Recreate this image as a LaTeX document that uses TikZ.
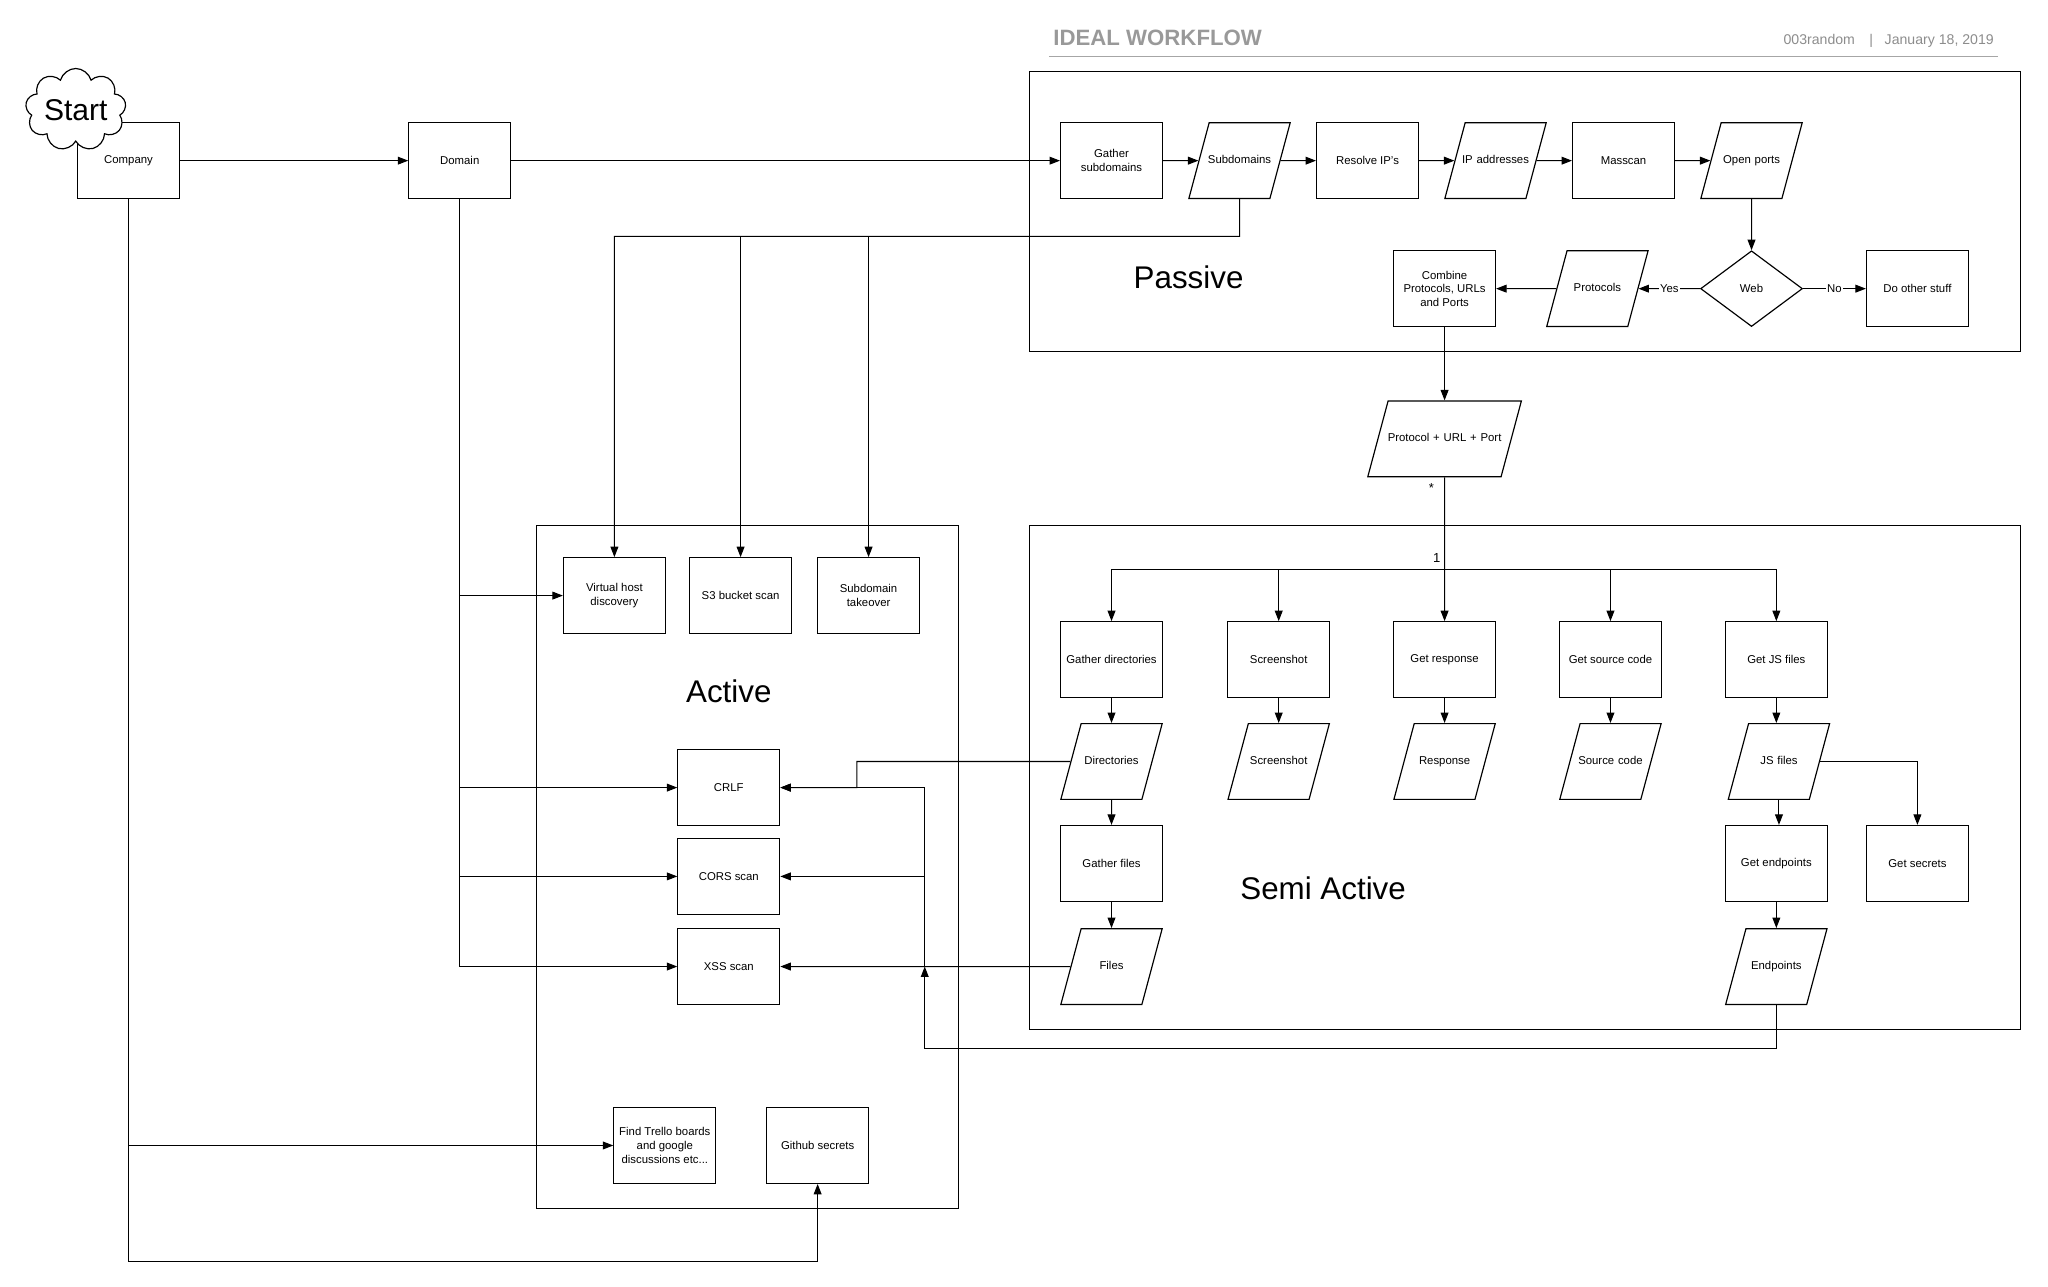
\documentclass[tikz,border=0pt]{standalone}
\usepackage{fontspec}
\setmainfont{Liberation Sans}
\usetikzlibrary{arrows.meta}
\usetikzlibrary{shapes.geometric}
\usetikzlibrary{shapes.symbols}

\begin{document}
\begin{tikzpicture}[x=1pt, y=-1pt,
    box/.style={draw, line width=0.9pt, fill=white, minimum width=78pt, minimum height=58pt, inner sep=2pt, align=center, font=\fontsize{8.7}{10.4}\selectfont},
    data/.style={box, trapezium, trapezium left angle=75, trapezium right angle=105, minimum width=0pt, minimum height=0pt, text width=62pt, text height=6.3pt, text depth=1.8pt, inner xsep=-7.75pt, inner ysep=24.95pt},
    region/.style={draw, line width=0.8pt},
    bigtext/.style={font=\fontsize{24}{28}\selectfont},
    link/.style={line width=0.8pt, -{Triangle[length=8pt, width=6pt]}},
    plain/.style={line width=0.8pt},
    ]
    \useasboundingbox (0,0) rectangle (1568,985);

    % header
    \node[anchor=base west, text=black!40, font=\fontsize{17}{20}\selectfont\bfseries] (title) at (803,35) {IDEAL WORKFLOW};
    \node[anchor=base east, text=black!45, font=\fontsize{10.8}{12}\selectfont] (meta) at (1530,34) {003random\hspace{11pt}|\hspace{9pt}January 18, 2019};
    \draw[black!35, line width=1pt] (803,43) -- (1530,43);

    % regions
    \draw[region] (788,55) rectangle (1547,269);
    \draw[region] (788,402) rectangle (1547,788);
    \draw[region] (411,402) rectangle (734,925);
    \node[bigtext] (passive) at (910,212) {Passive};
    \node[bigtext] (active) at (558,529) {Active};
    \node[bigtext] (semi) at (1013,680) {Semi Active};

    % start
    \node[box] (company) at (98.4,123) {Company};
    \node[cloud, draw, fill=white, line width=0.9pt, cloud puffs=9, aspect=1.35, inner sep=-1pt, minimum width=77pt, minimum height=57pt, font=\fontsize{23}{26}\selectfont] (start) at (58,84) {Start};
    \node[box] (domain) at (352,123) {Domain};

    % passive
    \node[box] (gsub) at (851,123) {Gather\\subdomains};
    \node[data] (subs) at (949,123) {Subdomains};
    \node[box] (resip) at (1047,123) {Resolve IP's};
    \node[data] (ipaddr) at (1145,123) {IP addresses};
    \node[box] (masscan) at (1243,123) {Masscan};
    \node[data] (openports) at (1341,123) {Open ports};
    \node[box, diamond, aspect=1.34, inner sep=0pt] (web) at (1341,221) {Web};
    \node[box] (other) at (1468,221) {Do other stuff};
    \node[data] (protos) at (1223,221) {Protocols};
    \node[box] (combine) at (1106,221) {Combine\\Protocols, URLs\\and Ports};
    \node[data, text width=100pt, inner xsep=-6.75pt] (pup) at (1106,336) {Protocol + URL + Port};

    % semi active
    \node[box] (gdir) at (851,505) {Gather directories};
    \node[box] (shot) at (979,505) {Screenshot};
    \node[box] (getresp) at (1106,505) {Get response};
    \node[box] (getsrc) at (1233,505) {Get source code};
    \node[box] (getjs) at (1360,505) {Get JS files};
    \node[data] (dirs) at (851,583) {Directories};
    \node[data] (shotdata) at (979,583) {Screenshot};
    \node[data] (resp) at (1106,583) {Response};
    \node[data] (src) at (1233,583) {Source code};
    \node[data] (jsfiles) at (1362,583) {JS files};
    \node[box] (gfiles) at (851,661) {Gather files};
    \node[box] (getend) at (1360,661) {Get endpoints};
    \node[box] (getsec) at (1468,661) {Get secrets};
    \node[data] (files) at (851,740) {Files};
    \node[data] (endpoints) at (1360,740) {Endpoints};

    % active
    \node[box] (vhost) at (470.4,456) {Virtual host\\discovery};
    \node[box] (s3) at (567,456) {S3 bucket scan};
    \node[box] (takeover) at (665,456) {Subdomain\\takeover};
    \node[box] (crlf) at (558,603) {CRLF};
    \node[box] (cors) at (558,671) {CORS scan};
    \node[box] (xss) at (558,740) {XSS scan};
    \node[box] (trello) at (509,877) {Find Trello boards\\and google\\discussions etc...};
    \node[box] (github) at (626,877) {Github secrets};

    % top row
    \draw[link] (company) -- (domain);
    \draw[link] (domain) -- (gsub);
    \draw[link] (gsub) -- (subs);
    \draw[link] (subs) -- (resip);
    \draw[link] (resip) -- (ipaddr);
    \draw[link] (ipaddr) -- (masscan);
    \draw[link] (masscan) -- (openports);
    \draw[link] (openports) -- (web);
    \draw[link] (web) -- node[fill=white, inner sep=1pt, font=\fontsize{8.7}{10}\selectfont] {Yes} (protos);
    \draw[link] (web) -- node[fill=white, inner sep=1pt, font=\fontsize{8.7}{10}\selectfont] {No} (other);
    \draw[link] (protos) -- (combine);
    \draw[link] (combine) -- (pup);

    % fan out
    \coordinate (split) at (1106,436);
    \draw[link] (pup) -- (getresp);
    \draw[plain] (gdir.north |- split) -- (getjs.north |- split);
    \draw[link] (gdir.north |- split) -- (gdir.north);
    \draw[link] (shot.north |- split) -- (shot.north);
    \draw[link] (getsrc.north |- split) -- (getsrc.north);
    \draw[link] (getjs.north |- split) -- (getjs.north);
    \node[font=\fontsize{10}{12}\selectfont] (many) at (1096,374) {*};
    \node[font=\fontsize{10}{12}\selectfont] (one) at (1100,427) {1};

    \draw[link] (gdir) -- (dirs);
    \draw[link] (dirs) -- (gfiles);
    \draw[link] (gfiles) -- (files);
    \draw[link] (shot) -- (shotdata);
    \draw[link] (getresp) -- (resp);
    \draw[link] (getsrc) -- (src);
    \draw[link] (getjs.south) -- (getjs.south |- jsfiles.north);
    \draw[link] (jsfiles.south) -- (jsfiles.south |- getend.north);
    \draw[link] (jsfiles.east) -| (getsec.north);
    \draw[link] (getend) -- (endpoints);

    % subdomains into active
    \coordinate (fork) at (949,181);
    \draw[link] (subs.south) -- (fork) -| (vhost.north);
    \draw[link] (fork -| s3.north) -- (s3.north);
    \draw[link] (fork -| takeover.north) -- (takeover.north);

    % domain into active
    \draw[link] (domain.south) |- (xss.west);
    \draw[link] (domain.south |- vhost.west) -- (vhost.west);
    \draw[link] (domain.south |- crlf.west) -- (crlf.west);
    \draw[link] (domain.south |- cors.west) -- (cors.west);

    % company
    \draw[link] (company.south) -- ++(0,813.4) -| (github.south);
    \draw[link] (company.south |- trello.west) -- (trello.west);

    % back into active
    \coordinate (dirbend) at (656,583);
    \coordinate (endbend) at (708,803);
    \draw[link] (dirs.west) -- (dirbend) |- (crlf.east);
    \draw[link] (files.west) -- (xss.east);
    \draw[link] (endpoints.south) |- (endbend) -- (endbend |- xss.east);
    \draw[link] (endbend |- xss.east) |- (crlf.east);
    \draw[link] (endbend |- cors.east) -- (cors.east);

\end{tikzpicture}
\end{document}
